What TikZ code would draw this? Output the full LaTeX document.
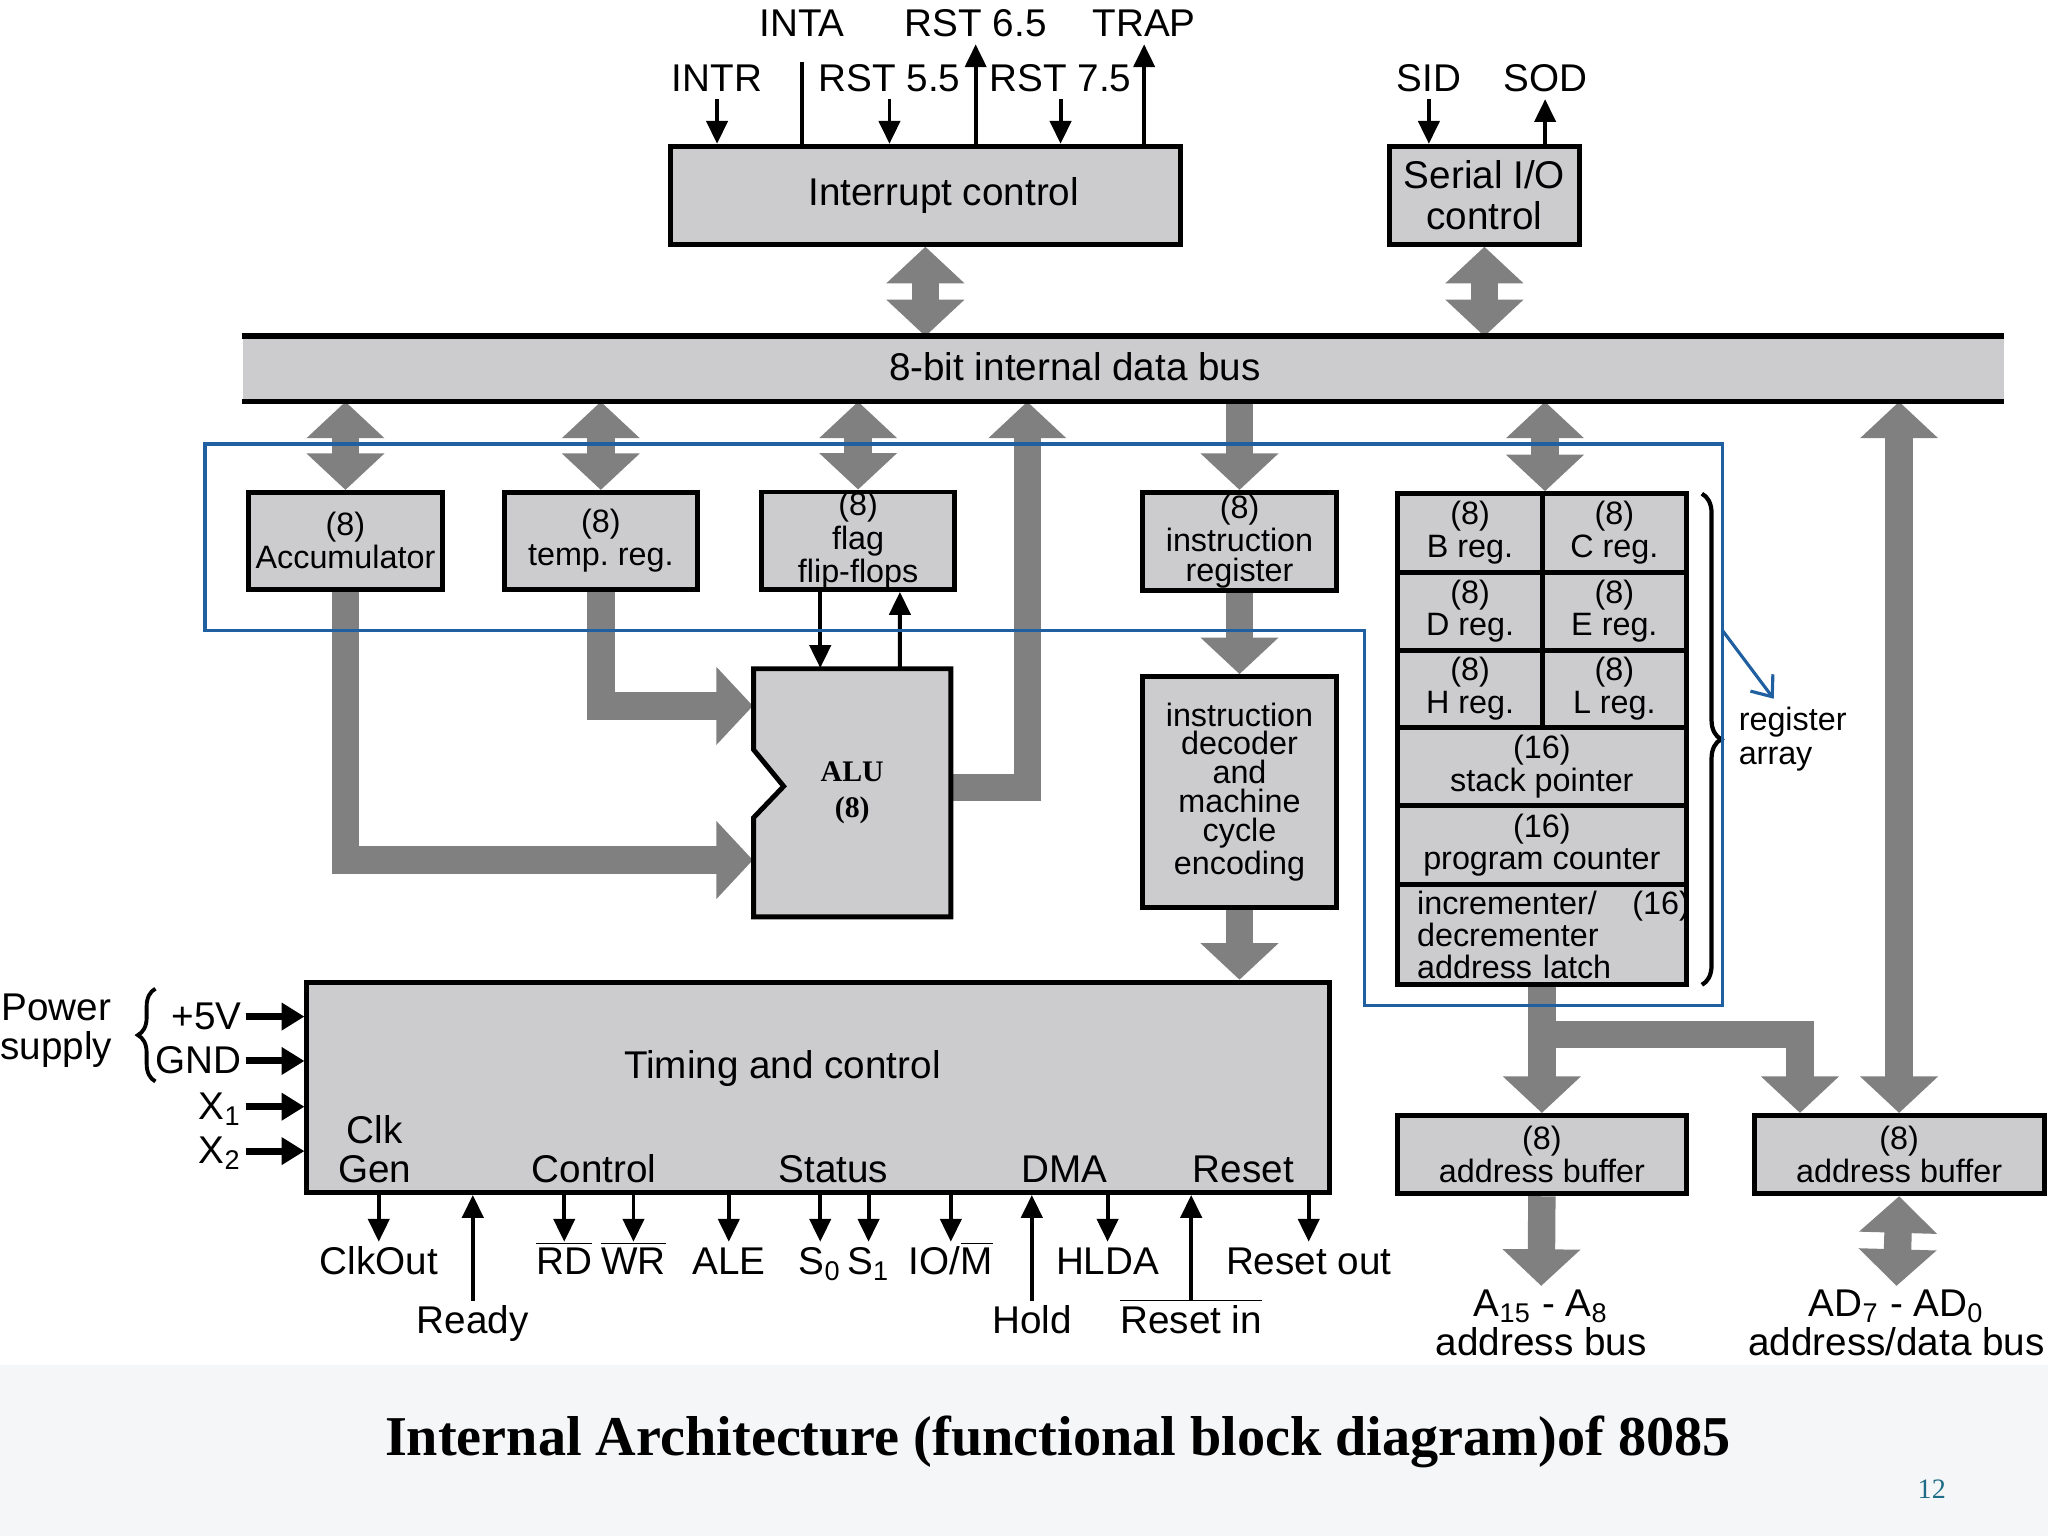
\documentclass[tikz,border=0pt]{standalone}
\usepackage{fontspec}
\setmainfont{Liberation Sans}
\newfontfamily\titlefont{Liberation Serif}
\usetikzlibrary{arrows.meta,calc,decorations.pathreplacing,backgrounds}
\definecolor{boxgray}{HTML}{CCCCCF}
\definecolor{fatgray}{HTML}{808080}
\definecolor{outblue}{HTML}{2060A0}
\definecolor{pagebg}{HTML}{F5F6F8}
\definecolor{pnum}{HTML}{1F6C86}
\frenchspacing
\def\upx{0.37163pt}
\newcommand\ovl[1]{$\overline{\mbox{#1}}$}
\tikzset{
  sz/.style 2 args={minimum width=#1*\upx,minimum height=#2*\upx},
  blk/.style={draw,line width=1.4pt,fill=boxgray,inner sep=0pt,align=center,font=\fontsize{9.2}{9.3}\selectfont},
  lab/.style={inner sep=1pt,align=center,font=\fontsize{11}{11.1}\selectfont},
  sg/.style={lab,text height=8.2pt,text depth=1pt,anchor=base},
  sig/.style={line width=1.1pt,-{Triangle[length=6.5pt,width=6pt]}},
  pwr/.style={line width=2pt,-{Triangle[length=6.5pt,width=7.5pt]}},
  fat/.style={fatgray,line width=7.8pt,line join=miter,-{Triangle[length=10.4pt,width=21.6pt]}},
  fat2/.style={fat,{Triangle[length=10.4pt,width=21.6pt]}-{Triangle[length=10.4pt,width=21.6pt]}},
}
\begin{document}
\begin{tikzpicture}[x=0.0130612cm,y=-0.0130612cm]
\useasboundingbox (0,0) rectangle (1568,1176);

\node[blk,sz={391}{75},font=\fontsize{11}{11}\selectfont] (ic) at (708.5,149.5) {\hspace*{10.4pt}Interrupt control};
\node[blk,sz={145}{75},font=\fontsize{11}{11.5}\selectfont] (sio) at (1136.5,149.5) {Serial I/O\\control};
\node[fill=boxgray,inner sep=0pt,sz={1348}{49}] (bus) at (860,282.5) {};
\draw[line width=1.6pt] (bus.north west) -- (bus.north east) (bus.south west) -- (bus.south east);
\node[lab] (buslbl) at (823,281) {8-bit internal data bus};

\node[sg] (inta) at (614,28) {INTA};
\node[sg] (r65) at (747,28) {RST 6.5};
\node[sg] (trap) at (876,28) {TRAP};
\node[sg] (intr) at (549,70) {INTR};
\node[sg] (r55) at (681,70) {RST 5.5};
\node[sg] (r75) at (812,70) {RST 7.5};
\node[sg] (sid) at (1094,70) {SID};
\node[sg] (sod) at (1183,70) {SOD};

\node[blk,sz={149}{74}] (acc) at (264.5,414) {(8)\\Accumulator};
\node[blk,sz={148}{74}] (tmp) at (460,414) {(8)\\temp. reg.};
\node[blk,sz={148}{74},font=\fontsize{9.2}{8.3}\selectfont] (flag) at (657,414) {(8)\\flag\\flip-flops};
\node[blk,sz={148}{75},font=\fontsize{9.2}{8.3}\selectfont] (ir) at (949,414.5) {(8)\\instruction\\register};
\node[blk,sz={148}{177},font=\fontsize{9.2}{8.2}\selectfont] (dec) at (949,606.5) {instruction\\decoder\\and\\machine\\cycle\\encoding};

\node[blk,sz={111}{60}] (regB) at (1125.5,408) {(8)\\B reg.};
\node[blk,sz={110}{60}] (regC) at (1236,408) {(8)\\C reg.};
\node[blk,sz={111}{60}] (regD) at (1125.5,468) {(8)\\D reg.};
\node[blk,sz={110}{60}] (regE) at (1236,468) {(8)\\E reg.};
\node[blk,sz={111}{59}] (regH) at (1125.5,527.5) {(8)\\H reg.};
\node[blk,sz={110}{59}] (regL) at (1236,527.5) {(8)\\L reg.};
\node[blk,sz={221}{60}] (sp) at (1180.5,587) {(16)\\stack pointer};
\node[blk,sz={221}{60}] (pc) at (1180.5,647) {(16)\\program counter};
\node[blk,sz={221}{77},align=left,inner xsep=5.6pt,text width=71pt,font=\fontsize{9.2}{9.1}\selectfont] (latch) at (1180.5,715.5) {\makebox[71pt][l]{incrementer/\hspace{1.1em}(16)}\\decrementer\\address latch};
\draw[line width=1.2pt,decorate,decoration={brace,amplitude=5.5pt}] (1303,378) -- (1303,754);
\node[anchor=west,align=left,inner sep=1pt,font=\fontsize{9.2}{9.7}\selectfont] (rarr) at (1328,566) {register\\array};

\filldraw[line width=1.4pt,fill=boxgray] (577,512) -- (728,512) -- (728,702) -- (577,702) -- (577,626) -- (600,602) -- (577,574) -- cycle;
\node[sz={151}{190},inner sep=0pt,align=center,font=\titlefont\bfseries\fontsize{8.5}{10.4}\selectfont] (alu) at (652.5,607) {ALU\\(8)};
\coordinate (aluin1) at ($(alu.north west)+(0,29)$);
\coordinate (aluin2) at ($(alu.north west)+(0,147)$);
\coordinate (aluout) at ($(alu.east)+(0,-4)$);
\coordinate (aluup) at ($(aluout)+(58,0)$);

\node[blk,sz={783}{161}] (tc) at (626.5,832.5) {};
\node[lab] (tcl) at (599,818) {Timing and control};
\node[lab] (clk) at (287,880) {Clk\\Gen};
\node[lab] (ctl) at (455,895) {Control};
\node[lab] (stat) at (638,895) {Status};
\node[lab] (dma) at (815,895) {DMA};
\node[lab] (rst) at (952,895) {Reset};

\node[lab] (pwr) at (43,789) {Power\\supply};
\draw[line width=1.1pt,decorate,decoration={brace,amplitude=5pt}] (119,828) -- (119,757);
\node[sg,anchor=base east] (p5v) at (188,788) {+5V};
\node[sg,anchor=base east] (gnd) at (188,822) {GND};
\node[sg,anchor=base east] (x1) at (188,857) {X\textsubscript{1}};
\node[sg,anchor=base east] (x2) at (188,891) {X\textsubscript{2}};

\node[sg] (clkout) at (290,976) {ClkOut};
\node[sg] (rd) at (432,976) {\ovl{RD}};
\node[sg] (wr) at (485,976) {\ovl{WR}};
\node[sg] (ale) at (558,976) {ALE};
\node[sg] (s0) at (628,976) {S\textsubscript{0}};
\node[sg] (s1) at (665,976) {S\textsubscript{1}};
\node[sg] (iom) at (728,976) {IO/\ovl{M}};
\node[sg] (hlda) at (848,976) {HLDA};
\node[sg] (rstout) at (1002,976) {Reset out};
\node[sg] (ready) at (362,1021) {Ready};
\node[sg] (hold) at (790,1021) {Hold};
\node[sg] (rstin) at (912,1021) {\ovl{Reset in}};

\node[blk,sz={221}{60}] (abuf) at (1180.5,884) {(8)\\address buffer};
\node[blk,sz={222}{60}] (adbuf) at (1454,884) {(8)\\address buffer};
\node[lab] (abus) at (1180,1013) {A\textsubscript{15} - A\textsubscript{8}\\address bus};
\node[lab] (adbus) at (1452,1013) {AD\textsubscript{7} - AD\textsubscript{0}\\address/data bus};
\coordinate (split) at ($(latch.south)+(0,36)$);
\coordinate (adin) at ($(adbuf.north west)+(37,0)$);

\begin{scope}[on background layer]
\fill[pagebg] (0,1045) rectangle (1568,1176);
\draw[fat2] (ic.south) -- (ic.south |- bus.north);
\draw[fat2] (sio.south) -- (sio.south |- bus.north);
\draw[fat2] (acc.north |- bus.south) -- (acc.north);
\draw[fat2] (tmp.north |- bus.south) -- (tmp.north);
\draw[fat2] (flag.north |- bus.south) -- (flag.north);
\draw[fat] (ir.north |- bus.south) -- (ir.north);
\draw[fat2] (regB.north east |- bus.south) -- (regB.north east);
\draw[fat2] (adbuf.north |- bus.south) -- (adbuf.north);
\draw[fat] (ir.south) -- (dec.north);
\draw[fat] (dec.south) -- (dec.south |- tc.north);
\draw[fat] (tmp.south) |- (aluin1);
\draw[fat] (acc.south) |- (aluin2);
\draw[fat] (aluout) -| (aluup |- bus.south);
\draw[fat] (latch.south) -- (abuf.north);
\draw[fat] (split) -| (adin);
\draw[fat] (abuf.south) -- (abus.north);
\draw[fat2] (adbuf.south) -- (adbus.north);
\draw[sig] ($(flag.south)+(-29,0)$) -- ($(alu.north)+(-24.5,0)$);
\draw[sig] ($(alu.north)+(36.5,0)$) -- ($(flag.south)+(32,0)$);
\end{scope}

\draw[sig] (intr.south) -- (intr.south |- ic.north);
\draw[line width=1.1pt,shorten <=5pt] (inta.south) -- (inta.south |- ic.north);
\draw[sig] (r55.south) -- (r55.south |- ic.north);
\draw[sig] (r65.south |- ic.north) -- (r65.south);
\draw[sig] (r75.south) -- (r75.south |- ic.north);
\draw[sig] (trap.south |- ic.north) -- (trap.south);
\draw[sig] (sid.south) -- (sid.south |- sio.north);
\draw[sig] (sod.south |- sio.north) -- (sod.south);

\draw[pwr] (p5v.east) -- (p5v.east -| tc.west);
\draw[pwr] (gnd.east) -- (gnd.east -| tc.west);
\draw[pwr] (x1.east) -- (x1.east -| tc.west);
\draw[pwr] (x2.east) -- (x2.east -| tc.west);

\draw[sig] (tc.south -| clkout.north) -- (clkout.north);
\draw[sig] (tc.south -| rd.north) -- (rd.north);
\draw[sig] (tc.south -| wr.north) -- (wr.north);
\draw[sig] (tc.south -| ale.north) -- (ale.north);
\draw[sig] (tc.south -| s0.north) -- (s0.north);
\draw[sig] (tc.south -| s1.north) -- (s1.north);
\draw[sig] (tc.south -| iom.north) -- (iom.north);
\draw[sig] (tc.south -| hlda.north) -- (hlda.north);
\draw[sig] (tc.south -| rstout.north) -- (rstout.north);
\draw[sig] (ready.north) -- (ready.north |- tc.south);
\draw[sig] (hold.north) -- (hold.north |- tc.south);
\draw[sig] (rstin.north) -- (rstin.north |- tc.south);

\draw[outblue,line width=0.9pt] (157,340) -- (1319,340) -- (1319,770) -- (1045,770) -- (1045,483) -- (157,483) -- cycle;
\coordinate (bl1) at (1319,483);
\coordinate (bl2) at (1358,535);
\draw[outblue,line width=0.9pt,-{Straight Barb[length=5pt,width=8pt]}] (bl1) -- (bl2);

\node[font=\titlefont\bfseries\fontsize{16}{16}\selectfont] (title) at (810,1104) {Internal Architecture (functional block diagram)of 8085};
\node[font=\titlefont\fontsize{8}{8}\selectfont,text=pnum] (pg) at (1479,1140) {12};
\end{tikzpicture}
\end{document}
